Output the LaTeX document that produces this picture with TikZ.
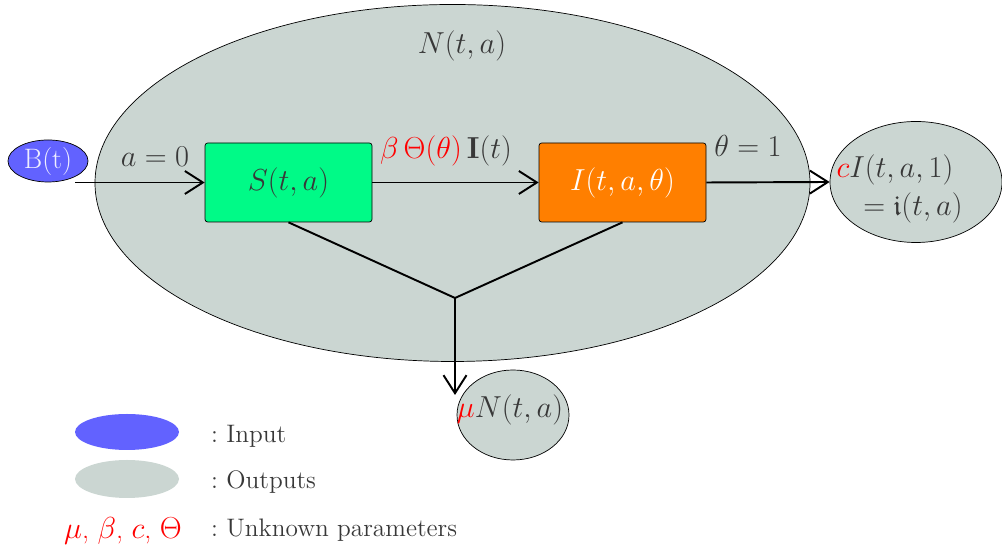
\documentclass[tikz,border=0pt]{standalone}
\usepackage{amsmath,amssymb}
\usetikzlibrary{arrows.meta,shapes.geometric}

\definecolor{inblue}{HTML}{6262FF}
\definecolor{outgray}{HTML}{CBD6D2}
\definecolor{sgreen}{HTML}{00FA87}
\definecolor{iorange}{HTML}{FF7F00}
\definecolor{txtgray}{HTML}{383838}

\tikzset{
  lbl/.style={text=txtgray, font=\fontsize{16}{19}\selectfont},
  compart/.style={draw=black, rounded corners=1.5pt, minimum width=3.34cm,
    minimum height=1.58cm, font=\LARGE},
  outell/.style={ellipse, draw=black, fill=outgray},
  flow/.style={line width=1.1pt, -{Straight Barb[length=3.6mm,width=4.6mm,line width=1.1pt]}}
}

\begin{document}
\begin{tikzpicture}
  \useasboundingbox (0,0) rectangle (20.04,11.04);

  % Population
  \node[outell, minimum width=14.3cm, minimum height=7.14cm] (pop) at (9.05,7.38) {};
  \node[lbl] (Nlbl) at (9.24,10.12) {$N(t,a)$};

  % Compartments
  \node[compart, fill=sgreen, text=txtgray] (S) at (5.77,7.39) {$S(t,a)$};
  \node[compart, fill=iorange, text=white] (I) at (12.45,7.39) {$I(t,a,\theta)$};

  % Input
  \node[ellipse, draw=black, fill=inblue, text=white!90!inblue, minimum width=1.6cm,
    minimum height=0.84cm, inner sep=0pt, font=\fontsize{16}{19}\selectfont] (B) at (0.96,7.82) {B(t)};

  % Outputs
  \node[outell, minimum width=3.44cm, minimum height=2.42cm] (out) at (18.32,7.40) {};
  \node[lbl] (outA) at (17.9,7.64) {$\textcolor{red}{c}I(t,a,1)$};
  \node[lbl] (outB) at (18.26,6.88) {$=\mathfrak{i}(t,a)$};

  \node[outell, minimum width=2.24cm, minimum height=1.8cm] (death) at (10.26,2.74) {};
  \node[lbl] (deathlbl) at (10.2,2.84) {$\textcolor{red}{\mu}N(t,a)$};

  % Flows
  \draw[flow] (B.-30 |- S.west) -- (S.west);
  \draw[flow] (S.east) -- (I.west);
  \draw[flow] (I.east) -- (out.west);

  \coordinate (junc) at (9.10,5.08);
  \coordinate (dend) at (9.10,3.14);
  \draw[line width=1.1pt] (S.south) -- (junc) -- (I.south);
  \draw[flow] (junc) -- (dend);

  % Flow labels
  \node[lbl] (a0) at (3.10,7.90) {$a=0$};
  \node[lbl] (inf) at (8.92,8.02) {$\textcolor{red}{\beta\,\Theta(\theta)}\,\mathbf{I}(t)$};
  \node[lbl] (th1) at (14.96,8.12) {$\theta=1$};

  % Legend
  \node[ellipse, fill=inblue, minimum width=2.08cm, minimum height=0.72cm] (legin) at (2.54,2.40) {};
  \node[ellipse, fill=outgray, minimum width=2.08cm, minimum height=0.76cm] (legout) at (2.54,1.46) {};
  \node[lbl, anchor=west, font=\Large] (tin) at (4.1,2.32) {:\ Input};
  \node[lbl, anchor=west, font=\Large] (tout) at (4.1,1.40) {:\ Outputs};
  \node[lbl, text=red] (legpar) at (2.46,0.42) {$\mu$, $\beta$, $c$, $\Theta$};
  \node[lbl, anchor=west, font=\Large] (tpar) at (4.1,0.44) {:\ Unknown parameters};
\end{tikzpicture}
\end{document}
